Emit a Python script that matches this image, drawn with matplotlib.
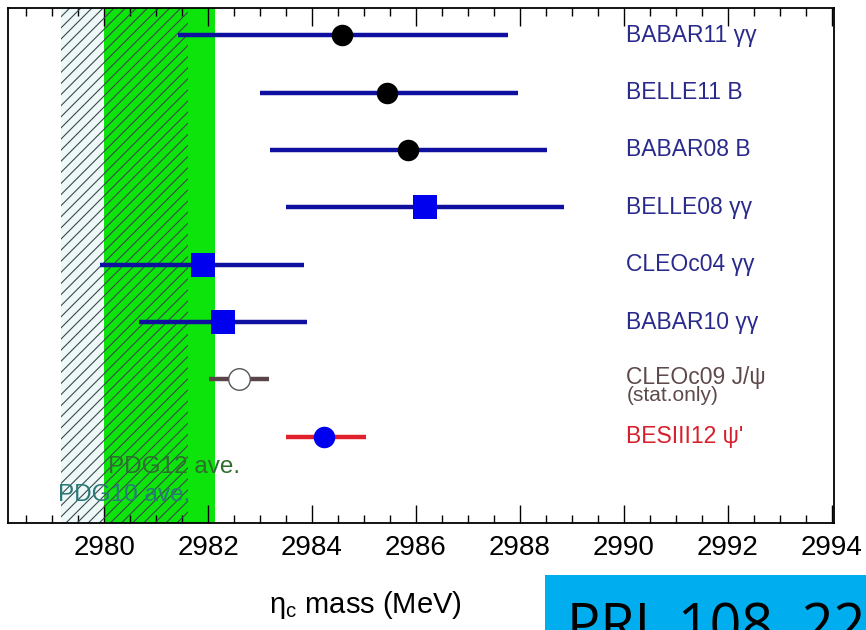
import matplotlib.pyplot as plt
from matplotlib.patches import Rectangle

plt.rcParams['font.family'] = ['Liberation Sans', 'DejaVu Sans']
plt.rcParams['hatch.linewidth'] = 0.8

# measurements of the eta_c mass (MeV), top to bottom
labels = ['BABAR11 γγ', 'BELLE11 B', 'BABAR08 B', 'BELLE08 γγ',
          'CLEOc04 γγ', 'BABAR10 γγ', 'CLEOc09 J/ψ', "BESIII12 ψ'"]
mass = [2984.57, 2985.45, 2985.85, 2986.18, 2981.90, 2982.28, 2982.59, 2984.24]
err_lo = [3.15, 2.44, 2.65, 2.67, 1.98, 1.61, 0.57, 0.73]
err_hi = [3.20, 2.52, 2.67, 2.67, 1.94, 1.62, 0.58, 0.81]
markers = ['o', 'o', 'o', 's', 's', 's', 'o', 'o']
mcolors = ['black', 'black', 'black', '#0000ee', '#0000ee', '#0000ee', 'white', '#0000f0']
lcolors = ['#1010a0'] * 6 + ['#5a4448', '#e0202a']
tcolors = ['#2a2a8c'] * 6 + ['#5e4a4a', '#d8202c']

pdg10 = (2979.17, 2981.61)
pdg12 = (2980.0, 2982.13)

fig = plt.figure(figsize=(8.66, 6.3), dpi=100)
ax = fig.add_axes([0.0092, 0.170, 0.954, 0.817])

ypos = list(range(len(labels), 0, -1))

# PDG averages
ax.axvspan(pdg10[0], pdg10[1], facecolor='#eef8f8', edgecolor='none', zorder=0)
ax.axvspan(pdg12[0], pdg12[1], facecolor='#0ce40c', edgecolor='none', zorder=1)
ax.axvspan(pdg10[0], pdg10[1], facecolor='none', edgecolor='#3a4a4a', hatch='///',
           linewidth=0, zorder=2)

for i in range(len(labels)):
    ax.plot([mass[i] - err_lo[i], mass[i] + err_hi[i]], [ypos[i], ypos[i]],
            color=lcolors[i], lw=3.2, solid_capstyle='butt', zorder=3)
    ms = 17 if markers[i] == 's' else 15.5
    ec = '#555555' if i == 6 else mcolors[i]
    ax.plot(mass[i], ypos[i], marker=markers[i], ms=ms, color=mcolors[i],
            markeredgecolor=ec, markeredgewidth=1 if i == 6 else 0, ls='none', zorder=4)
    if i == 6:
        ax.text(2990.05, ypos[i] + 0.04, 'CLEOc09 J/ψ', color=tcolors[i], fontsize=16.5,
                va='center', ha='left')
        ax.text(2990.05, ypos[i] - 0.28, '(stat.only)', color=tcolors[i], fontsize=15,
                va='center', ha='left')
    else:
        ax.text(2990.05, ypos[i], labels[i], color=tcolors[i], fontsize=16.5,
                va='center', ha='left')

ax.text(2980.08, 0.48, 'PDG12 ave.', color='#2e6e30', fontsize=17.5, va='center')
ax.text(2979.12, -0.02, 'PDG10 ave.', color='#2a7a7a', fontsize=17.5, va='center')

ax.set_xlim(2978.15, 2994.05)
ax.set_ylim(-0.5, 8.47)
ax.set_yticks([])
ax.set_xticks(range(2980, 2995, 2))
ax.set_xticks([x / 2 for x in range(5957, 5989)], minor=True)
ax.tick_params(axis='x', which='both', direction='in', top=True, labelsize=20, pad=9)
ax.tick_params(axis='x', which='major', length=13, width=1)
ax.tick_params(axis='x', which='minor', length=6, width=1)
for s in ax.spines.values():
    s.set_linewidth(1.3)

fig.text(0.422, 0.04, 'η$_\\mathregular{c}$ mass (MeV)', fontsize=21, ha='center', va='center')

# blue reference box at bottom right
fig.patches.append(Rectangle((0.629, 0.0), 0.371, 0.087, transform=fig.transFigure,
                             facecolor='#00aeef', edgecolor='none', zorder=5))
fig.text(0.655, -0.045, 'PRL 108, 22', fontsize=40, family='Open Sans', color='black',
         ha='left', va='bottom', zorder=6)

fig.savefig('out.png', dpi=100)
